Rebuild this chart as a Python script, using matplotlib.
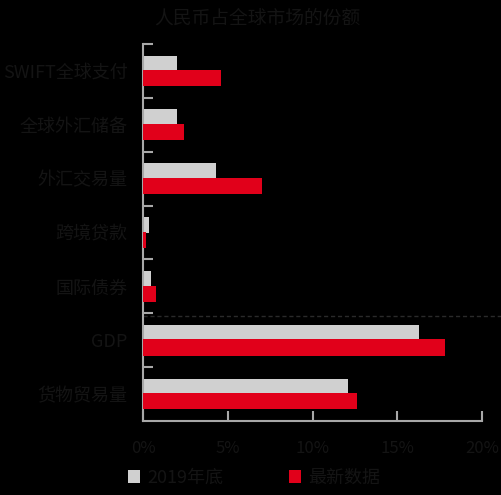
import matplotlib
matplotlib.use("Agg")
import matplotlib.pyplot as plt
import numpy as np
from matplotlib.transforms import blended_transform_factory
from matplotlib.patches import Patch

categories = ["SWIFT全球支付", "全球外汇储备", "外汇交易量", "跨境贷款", "国际债券", "GDP", "货物贸易量"]
val_2019 = [2.0, 2.0, 4.3, 0.35, 0.45, 16.3, 12.1]
val_latest = [4.6, 2.4, 7.0, 0.15, 0.75, 17.8, 12.6]
series_names = ["2019年底", "最新数据"]
xticks = [0, 5, 10, 15, 20]
xtick_labels = ["0%", "5%", "10%", "15%", "20%"]
title = "人民币占全球市场的份额"

plt.rcParams['font.family'] = ['Noto Sans CJK SC', 'DejaVu Sans']
TXT = "#141414"
GREY = "#d0d0d0"
RED = "#e1001a"
AX = "#a8a8a8"

fig = plt.figure(figsize=(5.02, 4.95), dpi=100, facecolor="black")
ax = fig.add_axes([143/502, 1-421/495, (482-143)/502, (421-44)/495])
ax.set_facecolor("black")

y = np.arange(len(categories))
h = 0.30
off = 0.135
ax.barh(y - off, val_2019, height=h, color=GREY, zorder=2)
ax.barh(y + off, val_latest, height=h, color=RED, zorder=3)

ax.set_ylim(len(categories) - 0.5, -0.5)
ax.set_xlim(0, 20)
ax.set_yticks(y)
ax.set_yticklabels(categories, fontsize=13, color=TXT)
ax.set_yticks(np.arange(-0.5, len(categories) - 1, 1.0), minor=True)
ax.tick_params(axis='y', which='major', length=0, pad=11)
ax.tick_params(axis='y', which='minor', direction='in', length=7, width=1.5, color=AX)
ax.set_xticks(xticks)
ax.set_xticklabels(xtick_labels, fontsize=12, color=TXT)
ax.tick_params(axis='x', direction='in', length=7, width=1.5, color=AX, pad=14)

for s in ["top", "right"]:
    ax.spines[s].set_visible(False)
for s in ["left", "bottom"]:
    ax.spines[s].set_color(AX)
    ax.spines[s].set_linewidth(1.5)

tr = blended_transform_factory(fig.transFigure, ax.transData)
ax.plot([143/502, 1.0], [4.55, 4.55], transform=tr, clip_on=False,
        color="#2a2a2a", linestyle=(0, (3, 2)), linewidth=1.0, zorder=1)

fig.text(257/502, 1-18/495, title, ha="center", va="center", fontsize=13.5, color=TXT)

handles = [Patch(facecolor=GREY, edgecolor="none"), Patch(facecolor=RED, edgecolor="none")]
fig.legend(handles, series_names, loc="center", bbox_to_anchor=(254/502, 1-478/495),
           ncol=2, frameon=False, fontsize=13, labelcolor=TXT,
           handlelength=0.7, handleheight=0.7, handletextpad=0.4, columnspacing=3.6)

fig.savefig("out.png", dpi=100, facecolor="black")
